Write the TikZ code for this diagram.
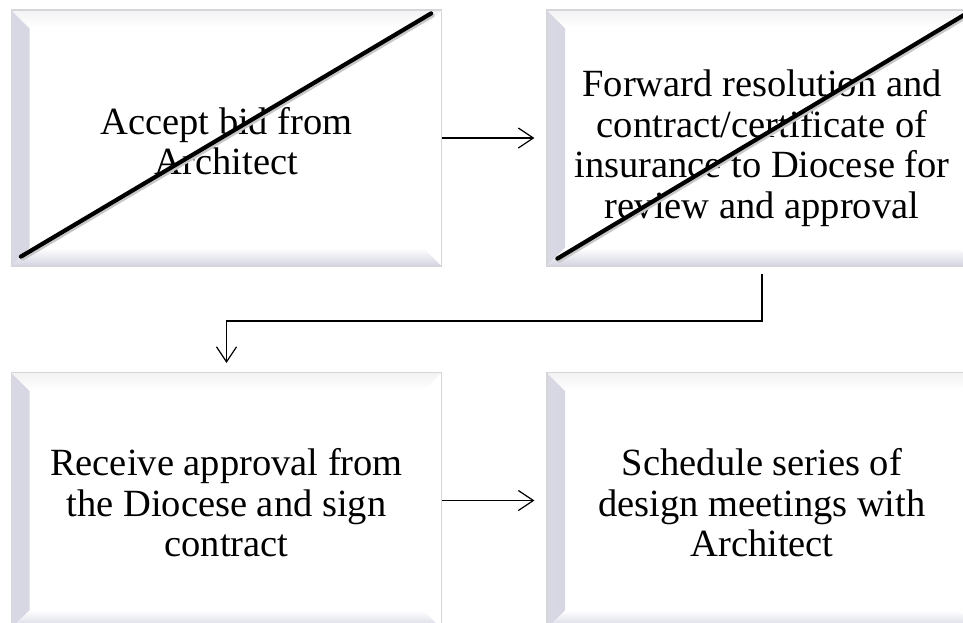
\documentclass[tikz,border=0pt]{standalone}
\usepackage{fontspec}
\setmainfont{Liberation Serif}
\usepackage{xcolor}
\usetikzlibrary{arrows.meta}
\definecolor{bevel}{RGB}{212,212,226}
\definecolor{rim}{RGB}{214,214,218}
\pgfdeclarehorizontalshading{bevelx}{100bp}{color(0bp)=(black!6); color(30bp)=(bevel); color(100bp)=(white)}

\tikzset{
	bevbox/.style={rectangle, draw=rim, line width=1.2pt, fill=white, inner sep=0pt,
		minimum width=430pt, minimum height=256pt, align=center, text depth=0pt,
		font=\fontsize{38.5}{40.5}\selectfont,
		path picture={
			\fill[shading=bevelx] (path picture bounding box.south west) -- (path picture bounding box.north west) -- ++(18pt,-18pt) -- ([shift={(18pt,18pt)}]path picture bounding box.south west) -- cycle;
			\fill[top color=white, bottom color=bevel] (path picture bounding box.south west) -- ++(18pt,18pt) -- ([shift={(-18pt,18pt)}]path picture bounding box.south east) -- (path picture bounding box.south east) -- cycle;
			\fill[top color=black!5, bottom color=white] (path picture bounding box.north west) -- (path picture bounding box.north east) -- ++(-18pt,-18pt) -- ([shift={(18pt,-18pt)}]path picture bounding box.north west) -- cycle;
		}},
	flow/.style={-{Straight Barb[length=15pt,width=20pt]}, line width=1.2pt},
	strike/.style={line width=4.2pt, line cap=round},
}

\begin{document}
\begin{tikzpicture}[x=1pt,y=-1pt]
			\useasboundingbox (0,0) rectangle (963,622);
			\coordinate (c1) at (226.5,138);
			\coordinate (c2) at (762,138);
			\coordinate (c3) at (226.5,500.5);
			\coordinate (c4) at (762,500.5);
			\coordinate (bend) at (500,321);
			
			\node[bevbox, text height=73pt] (b1) at (c1) {Accept bid from\\Architect};
			\node[bevbox, text height=160pt] (b2) at (c2) {Forward resolution and\\contract/certificate of\\insurance to Diocese for\\review and approval};
			\node[bevbox, text height=112pt] (b3) at (c3) {Receive approval from\\the Diocese and sign\\contract};
			\node[bevbox, text height=112pt] (b4) at (c4) {Schedule series of\\design meetings with\\Architect};
			
			% crossed out steps
			\draw[strike, black!22] ([shift={(11.5pt,8pt)}]b1.south west) -- ([shift={(-9.5pt,-6pt)}]b1.north east);
			\draw[strike] ([shift={(10pt,10pt)}]b1.south west) -- ([shift={(-11pt,-4pt)}]b1.north east);
			\draw[strike, black!22] ([shift={(12.5pt,6pt)}]b2.south west) -- ([shift={(-9.5pt,-6pt)}]b2.north east);
			\draw[strike] ([shift={(11pt,8pt)}]b2.south west) -- ([shift={(-11pt,-4pt)}]b2.north east);
			
			\draw[flow, shorten >=12pt] (b1) -- (b2);
			\draw[flow, shorten <=7pt, shorten >=9pt] (b2.south) |- (bend) -| (b3.north);
			\draw[flow, shorten >=12pt] (b3) -- (b4);
\end{tikzpicture}
\end{document}
